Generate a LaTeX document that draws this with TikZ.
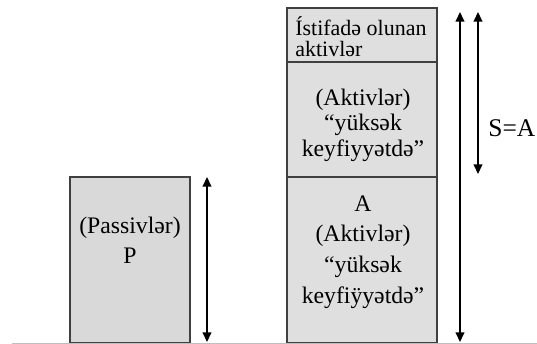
\documentclass[tikz,border=0pt]{standalone}
\usepackage{fontspec}
\setmainfont{Liberation Serif}
\usepackage{tikz}
\usetikzlibrary{arrows.meta,positioning}

\begin{document}
\begin{tikzpicture}[x=0.02cm, y=-0.02cm,
    box/.style={draw=black!75, line width=0.7pt, fill=gray!25, outer sep=0pt, inner sep=0pt},
    txt/.style={align=center, inner sep=0pt, font=\fontsize{13.5}{17}\selectfont},
    dim/.style={{Triangle[width=5pt,length=5.5pt]}-{Triangle[width=5pt,length=5.5pt]}, line width=0.8pt}]
  \useasboundingbox (0,0) rectangle (537,344);

  % columns
  \node[box, fill=gray!30, minimum width=2.4cm, minimum height=3.32cm, anchor=south west] (pas) at (70,343) {};
  \node[box, minimum width=3cm, minimum height=3.32cm, anchor=south west] (low) at (287,343) {};
  \node[box, minimum width=3cm, minimum height=2.3cm, above=0pt of low] (mid) {};
  \node[box, minimum width=3cm, minimum height=1.08cm, above=0pt of mid] (top) {};

  % texts
  \node[txt] (ptxt) at (130,240) {(Passivlər)\\P};
  \node[txt, font=\fontsize{13.5}{17.5}\selectfont] (lowtxt) at (363,252) {A\\(Aktivlər)\\“yüksək\\keyfiÿyətdə”};
  \node[txt, font=\fontsize{13.5}{14.5}\selectfont] (midtxt) at (363,125) {(Aktivlər)\\“yüksək\\keyfiyyətdə”};
  \node[txt, align=left, anchor=west, font=\fontsize{12.5}{12}\selectfont] (toptxt) at (295,37) {Ístifadə olunan\\aktivlər};
  \node[inner sep=0pt, anchor=west, font=\fontsize{14.5}{16}\selectfont] (sa) at (488,128.5) {S=A};

  % arrows
  \coordinate (pt) at (207,177);
  \coordinate (pb) at (207,342);
  \coordinate (st) at (460,12);
  \coordinate (sb) at (460,342);
  \coordinate (at) at (478,12);
  \coordinate (ab) at (478,174);
  \draw[dim] (pt) -- (pb);
  \draw[dim] (st) -- (sb);
  \draw[dim] (at) -- (ab);

  % ground line
  \coordinate (gl) at (12,343.5);
  \coordinate (gr) at (537,343.5);
  \draw[gray!50, line width=1pt] (gl) -- (gr);
\end{tikzpicture}
\end{document}
